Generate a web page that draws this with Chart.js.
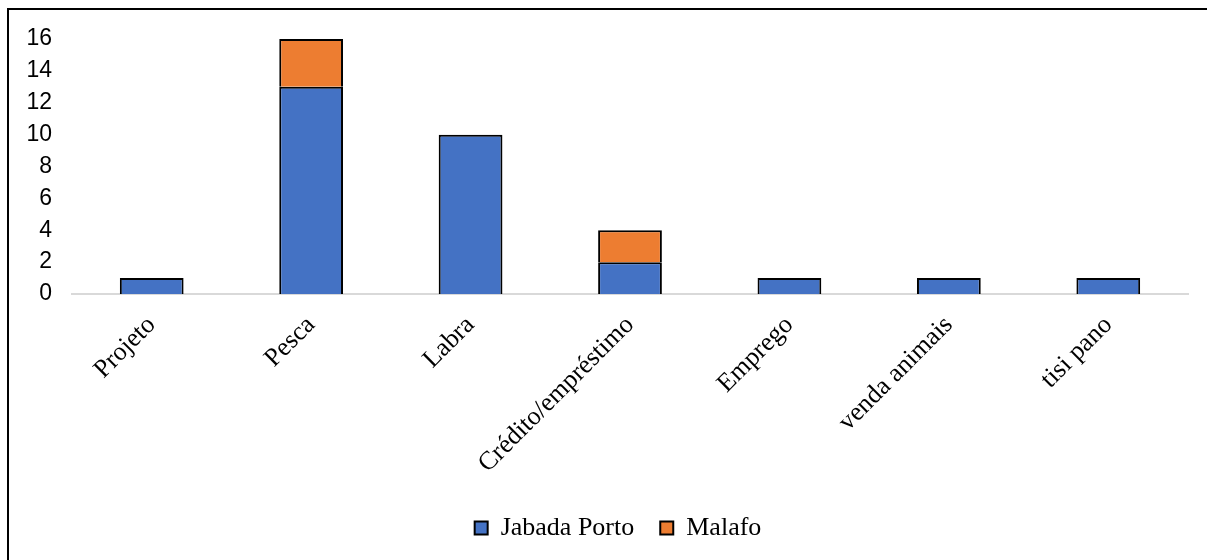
<!DOCTYPE html>
<html>
<head>
<meta charset="utf-8">
<script src="https://cdn.jsdelivr.net/npm/chart.js@4/dist/chart.umd.min.js"></script>
<style>
  html, body { margin: 0; padding: 0; background: #fff; overflow: hidden; }
  #frame { position: absolute; left: 7px; top: 8px; width: 1400px; height: 700px;
           border-left: 2px solid #000; border-top: 2px solid #000; }
  #wrap { position: absolute; left: 0; top: 0; width: 1207px; height: 560px; }
</style>
</head>
<body>
<div id="frame"></div>
<div id="wrap"><canvas id="grafico"></canvas></div>
<script>
// categorias y series
const categorias = ["Projeto", "Pesca", "Labra", "Crédito/empréstimo", "Emprego", "venda animais", "tisi pano"];
const jabadaPorto = [1, 13, 10, 2, 1, 1, 1];
const malafo = [0, 3, 0, 2, 0, 0, 0];
const ticksY = [0, 2, 4, 6, 8, 10, 12, 14, 16];

const serif = '"Liberation Serif", "Times New Roman", serif';
const ctx = document.getElementById('grafico').getContext('2d');

// corre un poco la leyenda a la derecha (como en el original)
const moverLeyenda = {
    id: 'moverLeyenda',
    afterLayout: function (chart) {
        if (chart.legend) {
            chart.legend.left += 14;
            chart.legend.right += 14;
        }
    }
};

new Chart(ctx, {
    type: 'bar',
    plugins: [moverLeyenda],
    data: {
        labels: categorias,
        datasets: [{
            label: 'Jabada Porto',
            data: jabadaPorto,
            backgroundColor: '#4472C4',
            borderColor: '#000',
            borderWidth: 2,
            categoryPercentage: 1,
            barPercentage: 0.4
        }, {
            label: 'Malafo',
            data: malafo,
            backgroundColor: '#ED7D31',
            borderColor: '#000',
            borderWidth: 2,
            categoryPercentage: 1,
            barPercentage: 0.4
        }]
    },
    options: {
        responsive: true,
        maintainAspectRatio: false,
        animation: false,
        layout: { padding: { left: 20, right: 19, top: 39, bottom: 9 } },
        scales: {
            x: {
                stacked: true,
                grid: { display: false, drawTicks: false },
                border: { display: true, color: '#D9D9D9', width: 2 },
                ticks: {
                    autoSkip: false,
                    maxRotation: 45,
                    minRotation: 45,
                    padding: 16,
                    color: '#000',
                    font: { family: serif, size: 26 }
                },
                afterFit: function (scale) { scale.height = 195; }
            },
            y: {
                stacked: true,
                min: 0,
                max: 16,
                grid: { display: false, drawTicks: false },
                border: { display: false },
                afterBuildTicks: function (scale) { scale.ticks = ticksY.map(v => ({ value: v })); },
                ticks: {
                    padding: 20,
                    color: '#000',
                    font: { family: '"Liberation Sans", Arial, sans-serif', size: 23 }
                },
                afterFit: function (scale) { scale.width = 52; }
            }
        },
        plugins: {
            legend: {
                position: 'bottom',
                labels: {
                    boxWidth: 13,
                    boxHeight: 13,
                    padding: 26,
                    color: '#000',
                    font: { family: serif, size: 26 }
                }
            },
            tooltip: { enabled: false }
        }
    }
});
</script>
</body>
</html>
